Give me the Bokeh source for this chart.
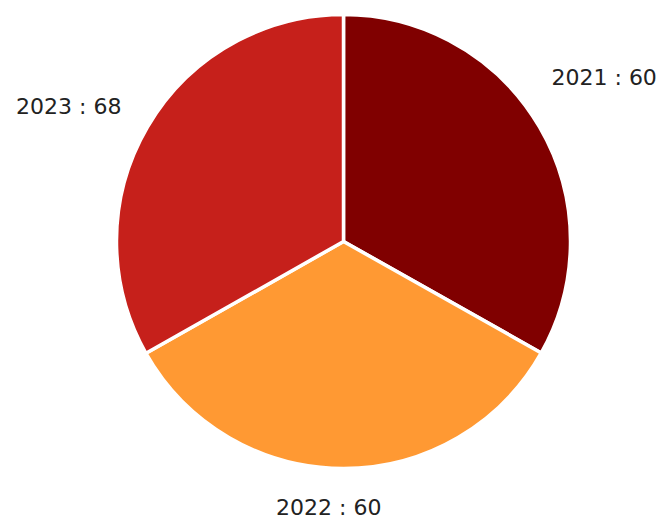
import math
from bokeh.plotting import figure
from bokeh.models import Range1d, ColumnDataSource
from bokeh.core.properties import value
from bokeh.embed import file_html
from bokeh.resources import INLINE

# ---- data ----
years = ["2021", "2022", "2023"]
values = [60, 60, 68]
# slice sizes (degrees of the circle, clockwise from 12 o'clock)
slice_degrees = [119.4, 121.1, 119.5]
colors = ["#800000", "#FF9933", "#C6201B"]

# ---- layout (page-pixel-like data units) ----
W, H = 659, 521
cx, cy = 343, H - 241      # pie centre in data units
R = 227                    # radius in data units
# label anchor offsets relative to the slice's outer edge point (layout only)
label_dx = [12, -15, -26]
label_dy = [49, -39, 21]
label_align = ["left", "center", "right"]

start, end, mids = [], [], []
acc = 0.0
for d in slice_degrees:
    a0 = math.radians(90 - acc)
    a1 = math.radians(90 - acc - d)
    start.append(a1)
    end.append(a0)
    mids.append((a0 + a1) / 2)
    acc += d

src = ColumnDataSource(dict(year=years, val=values, start=start, end=end, color=colors))

p = figure(width=W, height=H, output_backend="svg", toolbar_location=None,
           x_range=Range1d(0, W), y_range=Range1d(0, H), min_border=0)
p.axis.visible = False
p.grid.visible = False
p.outline_line_color = None
p.background_fill_color = "white"
p.border_fill_color = "white"

p.wedge(x=cx, y=cy, radius=R, start_angle="start", end_angle="end", source=src,
        fill_color="color", line_color="white", line_width=3.5)

lx, ly, lt = [], [], []
for i, m in enumerate(mids):
    lx.append(cx + R * math.cos(m) + label_dx[i])
    ly.append(cy + R * math.sin(m) + label_dy[i])
    lt.append(f"{years[i]} : {values[i]}")

lsrc = ColumnDataSource(dict(x=lx, y=ly, text=lt, align=label_align))
p.text(x="x", y="y", text="text", source=lsrc, text_align="align", text_baseline="middle",
       text_font=value("DejaVu Sans"), text_font_size="22px", text_color="#222222")

open("out.html", "w").write(file_html(p, INLINE))
